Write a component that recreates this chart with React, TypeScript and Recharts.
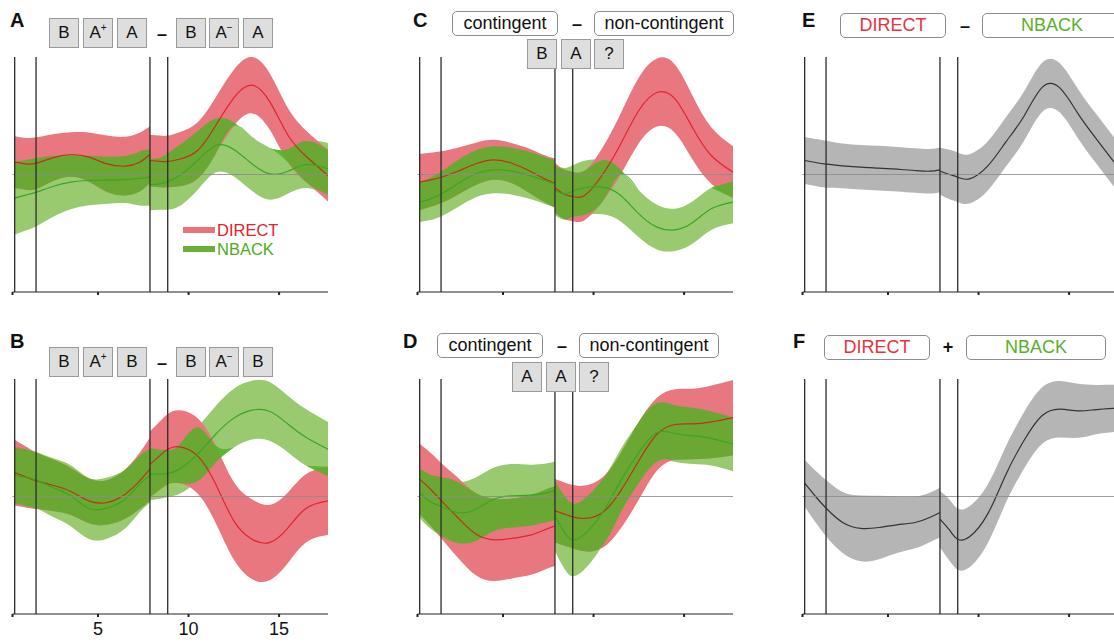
import React from 'react'
import { ComposedChart, Area, Line, XAxis, YAxis, ReferenceLine } from 'recharts'

// sample times (s); the curve has a kink at the cue onset 7.87, so that time appears twice
const time = [0.4, 1, 1.6, 2.5, 3.5, 4.5, 5.5, 6.5, 7.3, 7.87, 7.87, 8.4, 8.85, 9.5, 10.5, 11.5, 12.5, 13.5, 14.5, 15.5, 16.5, 17.7]
const splitAt = 10
const eventTimes = [0.4, 1.58, 7.87, 8.85]
const tickValues = [0.28, 5, 10, 15]

// A: B A+ A - B A- A
const aDirect = [0.105, 0.091, 0.096, 0.142, 0.17, 0.148, 0.091, 0.071, 0.105, 0.17, 0.119, 0.111, 0.111, 0.13, 0.204, 0.417, 0.652, 0.76, 0.616, 0.332, 0.153, -0.009]
const aDirectErr = [0.22, 0.22, 0.22, 0.2, 0.19, 0.21, 0.24, 0.25, 0.25, 0.24, 0.22, 0.22, 0.22, 0.23, 0.24, 0.24, 0.24, 0.24, 0.24, 0.23, 0.22, 0.22]
const aNback = [-0.201, -0.176, -0.15, -0.102, -0.065, -0.051, -0.048, -0.043, -0.034, -0.023, -0.085, -0.079, -0.06, -0.009, 0.119, 0.247, 0.213, 0.091, 0.006, 0.028, 0.085, 0.048]
const aNbackErr = [0.31, 0.3, 0.29, 0.26, 0.23, 0.21, 0.2, 0.2, 0.23, 0.24, 0.22, 0.22, 0.24, 0.26, 0.25, 0.23, 0.23, 0.23, 0.22, 0.19, 0.2, 0.22]

// B: B A+ B - B A- B
const bDirect = [0.204, 0.167, 0.133, 0.096, 0.043, -0.037, -0.051, 0.02, 0.133, 0.233, 0.275, 0.346, 0.403, 0.423, 0.346, 0.105, -0.207, -0.363, -0.391, -0.264, -0.099, -0.037]
const bDirectErr = [0.28, 0.26, 0.24, 0.22, 0.2, 0.19, 0.19, 0.21, 0.24, 0.27, 0.28, 0.29, 0.3, 0.31, 0.32, 0.33, 0.33, 0.34, 0.32, 0.3, 0.29, 0.29]
const bNback = [0.182, 0.162, 0.139, 0.077, 0.006, -0.102, -0.099, -0.023, 0.105, 0.176, 0.19, 0.19, 0.196, 0.233, 0.36, 0.53, 0.667, 0.735, 0.723, 0.615, 0.502, 0.403]
const bNbackErr = [0.24, 0.24, 0.24, 0.25, 0.26, 0.26, 0.26, 0.25, 0.24, 0.23, 0.22, 0.21, 0.2, 0.21, 0.23, 0.24, 0.25, 0.25, 0.25, 0.24, 0.24, 0.23]

// C: contingent - non-contingent, B A ?
const cDirect = [-0.065, -0.045, -0.023, 0.028, 0.091, 0.125, 0.096, 0.028, -0.037, -0.074, -0.113, -0.17, -0.187, -0.179, 0.0, 0.26, 0.545, 0.698, 0.644, 0.389, 0.162, 0.02]
const cDirectErr = [0.24, 0.23, 0.22, 0.2, 0.18, 0.17, 0.17, 0.19, 0.2, 0.21, 0.21, 0.21, 0.21, 0.21, 0.23, 0.26, 0.28, 0.29, 0.29, 0.27, 0.24, 0.22]
const cNback = [-0.235, -0.207, -0.165, -0.079, 0.006, 0.04, 0.028, -0.009, -0.051, -0.079, -0.136, -0.165, -0.142, -0.113, -0.108, -0.179, -0.335, -0.448, -0.471, -0.406, -0.292, -0.235]
const cNbackErr = [0.17, 0.18, 0.19, 0.2, 0.2, 0.2, 0.2, 0.2, 0.2, 0.2, 0.21, 0.22, 0.22, 0.23, 0.23, 0.22, 0.2, 0.19, 0.18, 0.18, 0.18, 0.18]

// D: contingent - non-contingent, A A ?
const dDirect = [0.148, 0.062, -0.037, -0.179, -0.32, -0.369, -0.357, -0.329, -0.284, -0.25, -0.122, -0.15, -0.173, -0.187, -0.136, 0.048, 0.304, 0.53, 0.613, 0.618, 0.635, 0.672]
const dDirectErr = [0.3, 0.31, 0.32, 0.34, 0.35, 0.35, 0.34, 0.34, 0.34, 0.34, 0.27, 0.27, 0.27, 0.28, 0.3, 0.32, 0.33, 0.31, 0.3, 0.3, 0.31, 0.32]
const dNback = [0.028, -0.045, -0.085, -0.136, -0.108, -0.023, 0.006, 0.011, 0.028, 0.048, -0.165, -0.306, -0.369, -0.32, -0.136, 0.133, 0.374, 0.545, 0.536, 0.516, 0.494, 0.445]
const dNbackErr = [0.21, 0.23, 0.25, 0.26, 0.27, 0.27, 0.27, 0.26, 0.25, 0.25, 0.3, 0.31, 0.31, 0.3, 0.28, 0.27, 0.26, 0.25, 0.24, 0.24, 0.23, 0.23]

// E: DIRECT - NBACK
const eDiff = [0.119, 0.102, 0.088, 0.074, 0.062, 0.054, 0.045, 0.034, 0.028, 0.04, 0.028, 0.0, -0.023, -0.037, 0.071, 0.275, 0.494, 0.74, 0.735, 0.516, 0.304, 0.062]
const eDiffErr = [0.2, 0.2, 0.2, 0.19, 0.19, 0.19, 0.19, 0.19, 0.19, 0.19, 0.2, 0.21, 0.21, 0.21, 0.21, 0.21, 0.21, 0.21, 0.21, 0.21, 0.21, 0.21]

// F: DIRECT + NBACK
const fSum = [0.113, 0.0, -0.102, -0.221, -0.272, -0.264, -0.241, -0.221, -0.179, -0.136, -0.193, -0.287, -0.363, -0.343, -0.15, 0.184, 0.474, 0.687, 0.743, 0.729, 0.74, 0.752]
const fSumErr = [0.2, 0.22, 0.24, 0.26, 0.28, 0.27, 0.24, 0.22, 0.21, 0.21, 0.24, 0.26, 0.26, 0.26, 0.25, 0.24, 0.24, 0.24, 0.24, 0.23, 0.21, 0.2]

const RED_BAND = '#e9777f'
const GREEN_BAND = '#9aca70'
const OVERLAP = '#4ab421'
const GRAY_BAND = '#b5b5b5'
const FONT = '"Liberation Sans", Arial, Helvetica, sans-serif'
const SEGS = ['Pre', 'Post']

const segOf = (i: number) => (i < splitAt ? 'Pre' : 'Post')
const sameSeg = (i: number, j: number) => j >= 0 && j < time.length && segOf(i) === segOf(j)

function pairRows(direct: number[], directErr: number[], nback: number[], nbackErr: number[]) {
  // where the two bands overlap; outside it, taper to zero width on the green band's near edge
  const both = time.map((_, i) => {
    const gLo = nback[i] - nbackErr[i]
    const gHi = nback[i] + nbackErr[i]
    const lo = Math.max(direct[i] - directErr[i], gLo)
    const hi = Math.min(direct[i] + directErr[i], gHi)
    if (lo <= hi) return { lo, hi, ok: true }
    const edge = direct[i] > nback[i] ? gHi : gLo
    return { lo: edge, hi: edge, ok: false }
  })
  return time.map((t, i) => {
    const s = segOf(i)
    const b = both[i]
    const keep = b.ok || (sameSeg(i, i - 1) && both[i - 1].ok) || (sameSeg(i, i + 1) && both[i + 1].ok)
    return {
      t,
      ['red' + s]: [direct[i] - directErr[i], direct[i] + directErr[i]],
      ['redMean' + s]: direct[i],
      ['green' + s]: [nback[i] - nbackErr[i], nback[i] + nbackErr[i]],
      ['greenMean' + s]: nback[i],
      ['both' + s]: keep ? [b.lo, b.hi] : null,
    }
  })
}

function singleRows(mean: number[], err: number[]) {
  return time.map((t, i) => {
    const s = segOf(i)
    return { t, ['band' + s]: [mean[i] - err[i], mean[i] + err[i]], ['mean' + s]: mean[i] }
  })
}

function axisProps(labels: boolean) {
  return {
    type: 'number' as const,
    dataKey: 't',
    domain: [0.28, 17.7],
    ticks: tickValues,
    interval: 0 as const,
    allowDataOverflow: true,
    height: 30,
    tickSize: 3,
    tickMargin: 5,
    axisLine: { stroke: '#222', strokeWidth: 1.2 },
    tickLine: { stroke: '#222', strokeWidth: 2 },
    tick: { fontSize: 18, fill: '#111', fontFamily: FONT },
    tickFormatter: (v: number) => (labels && v >= 1 ? String(v) : ''),
  }
}

const MARGIN = { top: 57, right: 12, bottom: 0, left: 12.5 }

function band(key: string, fill: string, opacity = 1) {
  return (
    <Area key={key} dataKey={key} type="natural" fill={fill} fillOpacity={opacity} stroke="none"
      isAnimationActive={false} activeDot={false} />
  )
}

function curve(key: string, stroke: string, opacity = 1) {
  return (
    <Line key={key} dataKey={key} type="natural" stroke={stroke} strokeOpacity={opacity} strokeWidth={1.2}
      dot={false} activeDot={false} isAnimationActive={false} />
  )
}

function PairPanel({ rows, left, top, labels = false }: { rows: any[]; left: number; top: number; labels?: boolean }) {
  return (
    <div style={{ position: 'absolute', left, top }}>
      <ComposedChart width={340} height={322} data={rows} margin={MARGIN}>
        <XAxis {...axisProps(labels)} />
        <YAxis hide domain={[-1, 1]} allowDataOverflow />
        {SEGS.map((s) => band('green' + s, GREEN_BAND))}
        {SEGS.map((s) => band('red' + s, RED_BAND))}
        {SEGS.map((s) => band('both' + s, OVERLAP, 0.8))}
        {SEGS.map((s) => curve('redMean' + s, '#e00010', 0.7))}
        {SEGS.map((s) => curve('greenMean' + s, '#3aa620'))}
        <ReferenceLine y={0} stroke="#8c8c8c" strokeOpacity={0.85} strokeWidth={1} />
        {eventTimes.map((x) => (
          <ReferenceLine key={x} x={x} stroke="#2b2b2b" strokeWidth={1.3} />
        ))}
      </ComposedChart>
    </div>
  )
}

function GrayPanel({ rows, left, top }: { rows: any[]; left: number; top: number }) {
  return (
    <div style={{ position: 'absolute', left, top }}>
      <ComposedChart width={340} height={322} data={rows} margin={MARGIN}>
        <XAxis {...axisProps(false)} />
        <YAxis hide domain={[-1, 1]} allowDataOverflow />
        {SEGS.map((s) => band('band' + s, GRAY_BAND))}
        {SEGS.map((s) => curve('mean' + s, '#333'))}
        <ReferenceLine y={0} stroke="#8c8c8c" strokeOpacity={0.85} strokeWidth={1} />
        {eventTimes.map((x) => (
          <ReferenceLine key={x} x={x} stroke="#2b2b2b" strokeWidth={1.3} />
        ))}
      </ComposedChart>
    </div>
  )
}

function Letter({ text, left, top }: { text: string; left: number; top: number }) {
  return (
    <div style={{ position: 'absolute', left, top, fontSize: 20, fontWeight: 'bold', lineHeight: '20px', color: '#111' }}>
      {text}
    </div>
  )
}

function Tile({ left, top, children }: { left: number; top: number; children: React.ReactNode }) {
  return (
    <div
      style={{
        position: 'absolute', left, top, width: 30, height: 30, boxSizing: 'border-box',
        background: '#dedede', border: '1.5px solid #9a9a9a', display: 'flex',
        alignItems: 'center', justifyContent: 'center', fontSize: 17, color: '#111',
      }}
    >
      {children}
    </div>
  )
}

function Pill({ left, top, width, color = '#111', text }: { left: number; top: number; width: number; color?: string; text: string }) {
  return (
    <div
      style={{
        position: 'absolute', left, top, width, height: 25, boxSizing: 'border-box',
        background: '#fff', border: '1.5px solid #8c8c8c', borderRadius: 5, display: 'flex',
        alignItems: 'center', justifyContent: 'center', fontSize: 18, color,
      }}
    >
      {text}
    </div>
  )
}

function Sign({ text, cx, cy }: { text: string; cx: number; cy: number }) {
  return (
    <div style={{ position: 'absolute', left: cx - 10, top: cy - 11, width: 20, textAlign: 'center', fontSize: 18, fontWeight: 'bold', lineHeight: '22px', color: '#111' }}>
      {text}
    </div>
  )
}

const Sup = ({ s }: { s: string }) => <span style={{ fontSize: 10, position: 'relative', top: -6 }}>{s}</span>

function TileRow({ top, first, last }: { top: number; first: string; last: string }) {
  return (
    <>
      <Tile left={49} top={top}>{first}</Tile>
      <Tile left={83} top={top}>A<Sup s="+" /></Tile>
      <Tile left={117} top={top}>{last}</Tile>
      <Sign text="–" cx={162} cy={top + 16} />
      <Tile left={176} top={top}>{first}</Tile>
      <Tile left={209} top={top}>A<Sup s="−" /></Tile>
      <Tile left={243} top={top}>{last}</Tile>
    </>
  )
}

export default function App() {
  const rowsA = pairRows(aDirect, aDirectErr, aNback, aNbackErr)
  const rowsB = pairRows(bDirect, bDirectErr, bNback, bNbackErr)
  const rowsC = pairRows(cDirect, cDirectErr, cNback, cNbackErr)
  const rowsD = pairRows(dDirect, dDirectErr, dNback, dNbackErr)
  const rowsE = singleRows(eDiff, eDiffErr)
  const rowsF = singleRows(fSum, fSumErr)

  return (
    <div style={{ position: 'absolute', left: 0, top: 0, width: 1114, height: 642, overflow: 'hidden', background: '#fff', fontFamily: FONT }}>
      <PairPanel rows={rowsA} left={0} top={0} />
      <PairPanel rows={rowsB} left={0} top={322} labels />
      <PairPanel rows={rowsC} left={405} top={0} />
      <PairPanel rows={rowsD} left={405} top={322} />
      <GrayPanel rows={rowsE} left={790} top={0} />
      <GrayPanel rows={rowsF} left={790} top={322} />

      <Letter text="A" left={10} top={10} />
      <Letter text="B" left={10} top={331} />
      <Letter text="C" left={413} top={10} />
      <Letter text="D" left={403} top={331} />
      <Letter text="E" left={802} top={10} />
      <Letter text="F" left={793} top={331} />

      <TileRow top={18} first="B" last="A" />
      <TileRow top={347} first="B" last="B" />

      <Pill left={452} top={11} width={106} text="contingent" />
      <Sign text="–" cx={577} cy={24} />
      <Pill left={594} top={11} width={140} text="non-contingent" />
      <Tile left={527} top={39}>B</Tile>
      <Tile left={561} top={39}>A</Tile>
      <Tile left={594} top={39}>?</Tile>

      <Pill left={437} top={333} width={106} text="contingent" />
      <Sign text="–" cx={562} cy={346} />
      <Pill left={579} top={333} width={140} text="non-contingent" />
      <Tile left={512} top={362}>A</Tile>
      <Tile left={546} top={362}>A</Tile>
      <Tile left={579} top={362}>?</Tile>

      <Pill left={840} top={13} width={106} color="#e8323c" text="DIRECT" />
      <Sign text="–" cx={965} cy={26} />
      <Pill left={982} top={13} width={140} color="#58b02a" text="NBACK" />

      <Pill left={824} top={335} width={106} color="#e8323c" text="DIRECT" />
      <Sign text="+" cx={948} cy={347} />
      <Pill left={966} top={335} width={140} color="#58b02a" text="NBACK" />

      <div style={{ position: 'absolute', left: 183, top: 227, width: 32, height: 6, background: '#ec727a' }} />
      <div style={{ position: 'absolute', left: 217, top: 221, fontSize: 16.5, lineHeight: '18px', color: '#e8202a' }}>DIRECT</div>
      <div style={{ position: 'absolute', left: 183, top: 246, width: 32, height: 6, background: '#6aae36' }} />
      <div style={{ position: 'absolute', left: 217, top: 240, fontSize: 16.5, lineHeight: '18px', color: '#4aad1c' }}>NBACK</div>
    </div>
  )
}
